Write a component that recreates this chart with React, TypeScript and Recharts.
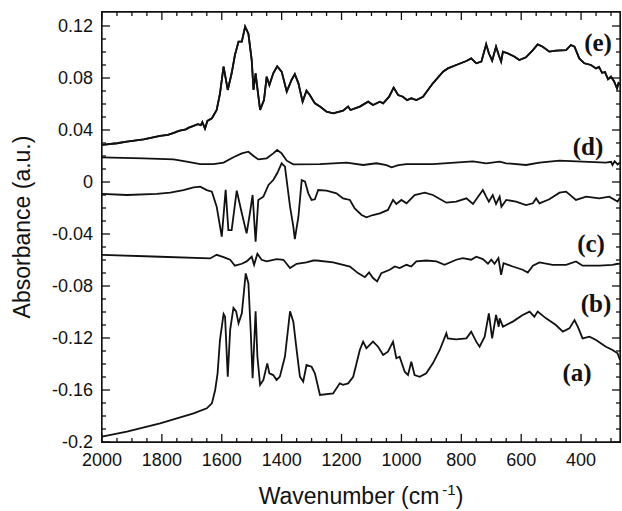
import React from 'react';
import { LineChart, Line, XAxis, YAxis } from 'recharts';

// ---- axis ticks ----
const xMajorTicks = [2000, 1800, 1600, 1400, 1200, 1000, 800, 600, 400];
const xAllTicks = [2000, 1950, 1900, 1850, 1800, 1750, 1700, 1650, 1600, 1550, 1500, 1450, 1400, 1350, 1300, 1250, 1200, 1150, 1100, 1050, 1000, 950, 900, 850, 800, 750, 700, 650, 600, 550, 500, 450, 400, 350, 300];
const yMajorTicks = [0.12, 0.08, 0.04, 0, -0.04, -0.08, -0.12, -0.16, -0.2];
const yTickLabels = ['0.12', '0.08', '0.04', '0', '-0.04', '-0.08', '-0.12', '-0.16', '-0.2'];
const yAllTicks = [0.12, 0.11, 0.1, 0.09, 0.08, 0.07, 0.06, 0.05, 0.04, 0.03, 0.02, 0.01, 0, -0.01, -0.02, -0.03, -0.04, -0.05, -0.06, -0.07, -0.08, -0.09, -0.1, -0.11, -0.12, -0.13, -0.14, -0.15, -0.16, -0.17, -0.18, -0.19, -0.2];

// ---- spectrum (e) ----
const waveE = [2000, 1950, 1917, 1861, 1806, 1780, 1760, 1750, 1740, 1720, 1710, 1694, 1680, 1670, 1665, 1656, 1648, 1633, 1617, 1606, 1594, 1580, 1567, 1556, 1544, 1533, 1522, 1511, 1500, 1494, 1487, 1481, 1472, 1459, 1450, 1441, 1428, 1415, 1400, 1383, 1367, 1356, 1344, 1330, 1317, 1306, 1289, 1272, 1250, 1228, 1195, 1178, 1170, 1139, 1111, 1095, 1072, 1061, 1041, 1026, 1011, 995, 981, 967, 950, 928, 895, 861, 845, 817, 783, 767, 750, 733, 717, 708, 697, 684, 675, 667, 661, 645, 622, 606, 584, 561, 545, 528, 506, 484, 450, 434, 422, 406, 389, 367, 350, 340, 330, 320, 310, 300, 290, 280, 275, 270];
const absE = [0.0285, 0.0298, 0.031, 0.0328, 0.0354, 0.0362, 0.0378, 0.0387, 0.0395, 0.0405, 0.0418, 0.0432, 0.0445, 0.0438, 0.046, 0.041, 0.047, 0.049, 0.0554, 0.068, 0.0887, 0.0708, 0.0836, 0.0977, 0.108, 0.108, 0.1195, 0.114, 0.0938, 0.0708, 0.0836, 0.072, 0.0554, 0.063, 0.081, 0.0746, 0.0836, 0.089, 0.0849, 0.0695, 0.0785, 0.083, 0.0759, 0.0618, 0.0703, 0.0669, 0.0605, 0.058, 0.0541, 0.0528, 0.0549, 0.058, 0.0554, 0.058, 0.0618, 0.0592, 0.0618, 0.0605, 0.0656, 0.0726, 0.0669, 0.0656, 0.063, 0.0644, 0.063, 0.0656, 0.0759, 0.0849, 0.0874, 0.09, 0.0931, 0.0951, 0.0913, 0.0926, 0.1059, 0.099, 0.0933, 0.1041, 0.0977, 0.0926, 0.1003, 0.099, 0.0964, 0.0938, 0.0959, 0.1015, 0.1059, 0.1041, 0.1003, 0.101, 0.1015, 0.1054, 0.1041, 0.0951, 0.0913, 0.09, 0.0874, 0.0885, 0.084, 0.0845, 0.079, 0.081, 0.0775, 0.072, 0.076, 0.075];

// ---- spectrum (d) ----
const waveD = [2000, 1861, 1761, 1717, 1672, 1628, 1594, 1561, 1533, 1511, 1494, 1478, 1450, 1428, 1415, 1400, 1383, 1361, 1272, 1183, 1128, 1083, 1050, 1033, 1010, 983, 895, 761, 717, 672, 650, 584, 539, 472, 395, 317, 300, 295, 288, 278, 270];
const absD = [0.019, 0.0182, 0.0174, 0.0156, 0.0138, 0.0138, 0.0149, 0.019, 0.022, 0.0233, 0.02, 0.0174, 0.0182, 0.022, 0.0246, 0.022, 0.0164, 0.0136, 0.0138, 0.0149, 0.0131, 0.0144, 0.013, 0.0113, 0.013, 0.0138, 0.0138, 0.0159, 0.0144, 0.0156, 0.0144, 0.0131, 0.0149, 0.0164, 0.0156, 0.0149, 0.0155, 0.0131, 0.016, 0.0135, 0.015];

// ---- spectrum (c) ----
const waveC = [2000, 1917, 1817, 1772, 1728, 1694, 1672, 1650, 1633, 1617, 1600, 1587, 1578, 1567, 1550, 1533, 1517, 1506, 1497, 1487, 1478, 1461, 1444, 1428, 1415, 1400, 1389, 1372, 1361, 1356, 1344, 1333, 1322, 1311, 1300, 1289, 1278, 1250, 1217, 1195, 1172, 1156, 1133, 1117, 1095, 1072, 1045, 1028, 1017, 1000, 983, 956, 922, 895, 850, 817, 783, 761, 744, 728, 717, 708, 695, 684, 672, 666, 650, 617, 584, 561, 550, 539, 506, 472, 450, 417, 383, 339, 306, 278, 270];
const absC = [-0.0092, -0.01, -0.0092, -0.0082, -0.0062, -0.0041, -0.0036, -0.0062, -0.0074, -0.019, -0.042, -0.006, -0.037, -0.037, -0.0067, -0.024, -0.0395, -0.024, -0.01, -0.046, -0.0138, -0.0113, -0.0023, 0.0015, 0.0067, 0.0144, 0.0118, -0.019, -0.0344, -0.044, -0.0267, 0.0015, 0.0003, -0.0087, -0.0138, -0.0133, -0.0062, -0.0067, -0.0087, -0.0126, -0.0138, -0.0203, -0.0254, -0.0272, -0.0254, -0.0241, -0.0215, -0.0138, -0.0169, -0.0138, -0.0164, -0.01, -0.0082, -0.01, -0.0159, -0.0151, -0.0126, -0.0169, -0.0113, -0.0062, -0.0113, -0.0151, -0.01, -0.0169, -0.0113, -0.019, -0.0138, -0.0151, -0.0177, -0.0164, -0.0126, -0.0164, -0.0133, -0.0082, -0.0074, -0.0138, -0.0113, -0.0126, -0.0113, -0.0151, -0.012];

// ---- spectrum (b) ----
const waveB = [2000, 1806, 1639, 1617, 1594, 1572, 1556, 1533, 1517, 1500, 1492, 1481, 1467, 1450, 1417, 1394, 1372, 1350, 1317, 1294, 1283, 1228, 1172, 1145, 1122, 1108, 1095, 1081, 1067, 1039, 1022, 1006, 983, 967, 950, 917, 883, 856, 817, 795, 767, 750, 728, 711, 700, 689, 676, 667, 659, 628, 595, 578, 561, 539, 495, 450, 417, 395, 339, 295, 278, 270];
const absB = [-0.056, -0.0575, -0.0588, -0.056, -0.0578, -0.0598, -0.0644, -0.0629, -0.0611, -0.0575, -0.0637, -0.0552, -0.0598, -0.0611, -0.0593, -0.0598, -0.0662, -0.0629, -0.0619, -0.0604, -0.0604, -0.0619, -0.065, -0.0701, -0.0732, -0.0696, -0.0739, -0.0765, -0.0701, -0.0675, -0.065, -0.0662, -0.0637, -0.065, -0.0611, -0.0604, -0.0611, -0.0637, -0.0598, -0.0585, -0.0598, -0.0575, -0.0593, -0.0629, -0.0598, -0.0629, -0.0585, -0.0714, -0.0624, -0.065, -0.0675, -0.0696, -0.0644, -0.0619, -0.0637, -0.0637, -0.0611, -0.0644, -0.0644, -0.0637, -0.0629, -0.063];

// ---- spectrum (a) ----
const waveA = [2000, 1917, 1806, 1694, 1650, 1633, 1622, 1614, 1606, 1594, 1589, 1580, 1572, 1561, 1552, 1544, 1533, 1520, 1511, 1503, 1497, 1487, 1481, 1472, 1461, 1448, 1441, 1428, 1417, 1406, 1389, 1372, 1361, 1350, 1339, 1328, 1317, 1300, 1289, 1272, 1228, 1206, 1195, 1178, 1161, 1139, 1128, 1117, 1095, 1078, 1061, 1045, 1028, 1017, 1006, 989, 978, 967, 956, 939, 917, 895, 872, 850, 845, 817, 783, 767, 750, 739, 722, 708, 697, 684, 675, 672, 661, 628, 595, 572, 556, 545, 517, 484, 461, 439, 422, 411, 395, 372, 350, 317, 295, 278, 270];
const absA = [-0.1959, -0.1921, -0.1857, -0.178, -0.1741, -0.1703, -0.16, -0.1472, -0.1215, -0.1015, -0.1036, -0.1497, -0.1138, -0.0969, -0.0995, -0.1087, -0.101, -0.0703, -0.078, -0.1164, -0.151, -0.0995, -0.1343, -0.1561, -0.1523, -0.1395, -0.1472, -0.1485, -0.1523, -0.1497, -0.1343, -0.0995, -0.1074, -0.1292, -0.1497, -0.1536, -0.1408, -0.1421, -0.1472, -0.1638, -0.1626, -0.1549, -0.156, -0.1549, -0.1498, -0.1292, -0.1228, -0.1279, -0.1228, -0.1267, -0.1331, -0.1305, -0.1228, -0.1356, -0.1344, -0.1459, -0.1485, -0.1382, -0.1485, -0.1498, -0.1472, -0.1395, -0.1292, -0.1164, -0.1203, -0.121, -0.1203, -0.1151, -0.1228, -0.1267, -0.119, -0.101, -0.1203, -0.1023, -0.1113, -0.1049, -0.1113, -0.1074, -0.1023, -0.0997, -0.1036, -0.0997, -0.1049, -0.11, -0.1151, -0.1126, -0.1062, -0.1113, -0.1203, -0.119, -0.1215, -0.1267, -0.1292, -0.1318, -0.1369];

// ---- curve annotations ----
const labelNames = ['(e)', '(d)', '(c)', '(b)', '(a)'];

const toRows = (xs: number[], ys: number[]) => xs.map((x, i) => ({ x, y: ys[i] }));
const series = [
  { key: 'e', data: toRows(waveE, absE) },
  { key: 'd', data: toRows(waveD, absD) },
  { key: 'c', data: toRows(waveC, absC) },
  { key: 'b', data: toRows(waveB, absB) },
  { key: 'a', data: toRows(waveA, absA) },
];
const frameRows = toRows(waveE, absE);

const SANS = "'Liberation Sans', Arial, Helvetica, sans-serif";
const SERIF = "'Liberation Serif', 'Times New Roman', serif";
const INK = '#111';
const X_DOMAIN: [number, number] = [270, 2000];
const Y_DOMAIN: [number, number] = [-0.2, 0.13077];

// label anchor positions in the 622x511 canvas
const labelPos = [
  { left: 598, top: 42 },
  { left: 588, top: 146 },
  { left: 591, top: 243 },
  { left: 596, top: 303 },
  { left: 577, top: 372 },
];

const isMajor = (v: number, majors: number[]) => majors.some((m) => Math.abs(m - v) < 1e-6);

const BottomTick = (props: any) => {
  const { x, y, payload } = props;
  const major = isMajor(payload.value, xMajorTicks);
  return (
    <g>
      <line x1={x} y1={y} x2={x} y2={y - (major ? 8 : 4)} stroke={INK} strokeWidth={1.3} />
      <text x={x} y={y + 24} textAnchor="middle" fontSize={18} fontFamily={SANS} fill={INK}>
        {major ? String(payload.value) : ''}
      </text>
    </g>
  );
};
const TopTick = (props: any) => {
  const { x, y, payload } = props;
  const major = isMajor(payload.value, xMajorTicks);
  return <line x1={x} y1={y} x2={x} y2={y + (major ? 8 : 4)} stroke={INK} strokeWidth={1.3} />;
};
const LeftTick = (props: any) => {
  const { x, y, payload } = props;
  const idx = yMajorTicks.findIndex((m) => Math.abs(m - payload.value) < 1e-6);
  return (
    <g>
      <line x1={x} y1={y} x2={x + (idx >= 0 ? 8 : 4)} y2={y} stroke={INK} strokeWidth={1.3} />
      <text x={x - 9} y={y} dy="0.35em" textAnchor="end" fontSize={18} fontFamily={SANS} fill={INK}>
        {idx >= 0 ? yTickLabels[idx] : ''}
      </text>
    </g>
  );
};
const RightTick = (props: any) => {
  const { x, y, payload } = props;
  const major = isMajor(payload.value, yMajorTicks);
  return <line x1={x} y1={y} x2={x - (major ? 8 : 4)} y2={y} stroke={INK} strokeWidth={1.3} />;
};

export default function App() {
  return (
    <div style={{ position: 'absolute', left: 0, top: 0, width: 622, height: 511 }}>
      <LineChart width={622} height={511} margin={{ top: 11, right: 1, bottom: 0, left: 0 }}>
        <XAxis dataKey="x" type="number" domain={X_DOMAIN} reversed ticks={xAllTicks} interval={0} tickSize={0} tickMargin={0} tickLine={false} axisLine={{ stroke: INK, strokeWidth: 1.3 }} tick={<BottomTick />} height={69} />
        <XAxis xAxisId="top" orientation="top" dataKey="x" type="number" domain={X_DOMAIN} reversed ticks={xAllTicks} interval={0} tickSize={0} tickMargin={0} tickLine={false} axisLine={{ stroke: INK, strokeWidth: 1.3 }} tick={<TopTick />} height={1} />
        <YAxis type="number" domain={Y_DOMAIN} ticks={yAllTicks} interval={0} tickSize={0} tickMargin={0} tickLine={false} axisLine={{ stroke: INK, strokeWidth: 1.3 }} tick={<LeftTick />} width={102} />
        <YAxis yAxisId="right" orientation="right" type="number" domain={Y_DOMAIN} ticks={yAllTicks} interval={0} tickSize={0} tickMargin={0} tickLine={false} axisLine={{ stroke: INK, strokeWidth: 1.3 }} tick={<RightTick />} width={1} />
        <Line data={frameRows} dataKey="y" xAxisId="top" yAxisId="right" stroke={INK} strokeWidth={1.8} dot={false} isAnimationActive={false} />
        {series.map((s) => (
          <Line key={s.key} data={s.data} dataKey="y" type="linear" stroke={INK} strokeWidth={1.8} dot={false} isAnimationActive={false} />
        ))}
      </LineChart>

      {/* frame of the plot area */}
      <div style={{ position: 'absolute', left: 101, top: 11, width: 518, height: 430, border: `1.3px solid ${INK}`, pointerEvents: 'none' }} />

      {/* axis titles */}
      <div style={{ position: 'absolute', left: 22, top: 227, transform: 'translate(-50%, -50%) rotate(-90deg)', fontFamily: SANS, fontSize: 23, lineHeight: 1, whiteSpace: 'nowrap', color: INK }}>
        Absorbance (a.u.)
      </div>
      <div style={{ position: 'absolute', left: 361, top: 485, transform: 'translateX(-50%)', fontFamily: SANS, fontSize: 23, lineHeight: 1, whiteSpace: 'nowrap', color: INK }}>
        Wavenumber (cm<span style={{ fontSize: 15, position: 'relative', top: -9, marginLeft: 3 }}>-1</span>)
      </div>

      {/* curve labels */}
      {labelNames.map((name, i) => (
        <div key={name} style={{ position: 'absolute', left: labelPos[i].left, top: labelPos[i].top, transform: 'translate(-50%, -50%)', fontFamily: SERIF, fontWeight: 'bold', fontSize: 25, lineHeight: 1, whiteSpace: 'nowrap', color: INK }}>
          {name}
        </div>
      ))}
    </div>
  );
}
